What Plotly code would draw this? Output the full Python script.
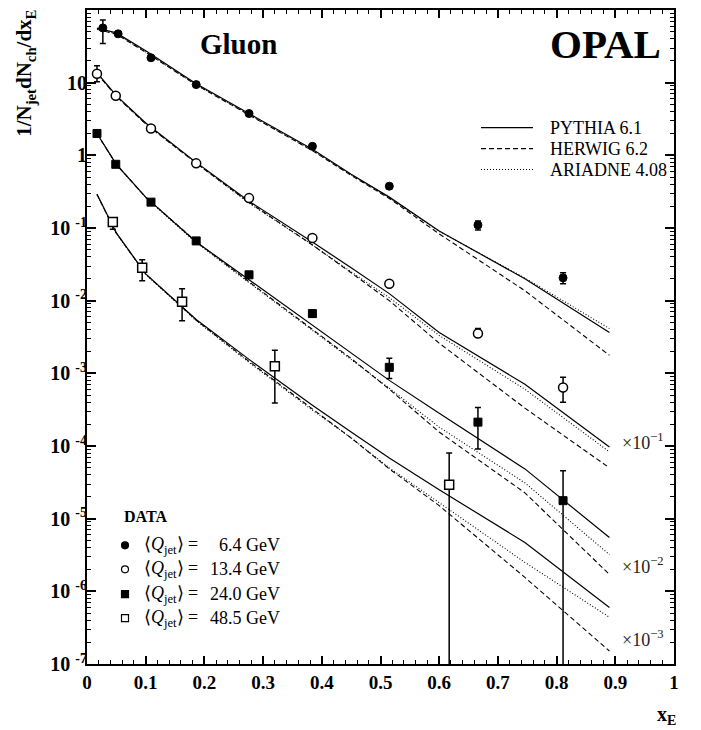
import plotly.graph_objects as go

# ---------------- data ----------------
# Monte Carlo curves: common x nodes
MC_X = [0.017, 0.05, 0.1, 0.186, 0.276, 0.384, 0.45, 0.515, 0.6, 0.746, 0.89]

# <Q_jet> = 6.4 GeV
PYTHIA_1 = [56.6, 48.4, 27.4, 9.68, 3.76, 1.21, 0.55, 0.266, 0.091, 0.020, 3.65e-3]
ARIADNE_1 = [55.5, 47.0, 26.5, 9.4, 3.65, 1.18, 0.54, 0.262, 0.090, 0.0205, 4.13e-3]
HERWIG_1 = [54.5, 46.5, 26.2, 9.3, 3.6, 1.16, 0.53, 0.255, 0.083, 0.0137, 1.77e-3]
# <Q_jet> = 13.4 GeV (as drawn, x 10^-1)
PYTHIA_2 = [13.7, 6.64, 2.79, 0.80, 0.234, 0.0643, 0.0283, 0.0125, 3.65e-3, 7.06e-4, 9.7e-5]
ARIADNE_2 = [13.5, 6.5, 2.72, 0.78, 0.220, 0.0585, 0.0249, 0.0110, 3.32e-3, 6.04e-4, 8.3e-5]
HERWIG_2 = [13.4, 6.45, 2.70, 0.78, 0.226, 0.0585, 0.0242, 0.0100, 2.6e-3, 3.32e-4, 5.0e-5]
# <Q_jet> = 24.0 GeV (as drawn, x 10^-2)
PYTHIA_3 = [2.0, 0.753, 0.266, 0.0643, 0.0194, 4.55e-3, 1.88e-3, 8.0e-4, 2.83e-4, 4.84e-5, 5.5e-6]
ARIADNE_3 = [1.98, 0.745, 0.262, 0.063, 0.0177, 3.88e-3, 1.556e-3, 6.24e-4, 1.82e-4, 3.11e-5, 3.21e-6]
HERWIG_3 = [1.98, 0.75, 0.265, 0.065, 0.0182, 4.0e-3, 1.6e-3, 6.04e-4, 1.556e-4, 2.27e-5, 1.71e-6]
# <Q_jet> = 48.5 GeV (as drawn, x 10^-3)
PYTHIA_4 = [0.292, 0.0855, 0.0234, 5.5e-3, 1.556e-3, 3.65e-4, 1.56e-4, 6.85e-5, 2.5e-5, 4.7e-6, 6.0e-7]
ARIADNE_4 = [0.29, 0.084, 0.023, 5.3e-3, 1.416e-3, 3.11e-4, 1.29e-4, 5.0e-5, 1.66e-5, 2.5e-6, 4.4e-7]
HERWIG_4 = [0.29, 0.085, 0.0232, 5.4e-3, 1.46e-3, 3.21e-4, 1.29e-4, 4.84e-5, 1.51e-5, 1.556e-6, 1.51e-7]

# OPAL data points
X_1 = [0.027, 0.053, 0.109, 0.186, 0.276, 0.384, 0.515, 0.666, 0.811]
Y_1 = [56.6, 47.0, 22.0, 9.4, 3.76, 1.33, 0.376, 0.11, 0.0206]
EP_1 = [16.0, 2.0, 1.0, 0.3, 0.1, 0.05, 0.03, 0.015, 0.0036]
EM_1 = [22.0, 2.0, 1.0, 0.3, 0.1, 0.05, 0.03, 0.016, 0.0035]

X_2 = [0.017, 0.049, 0.109, 0.186, 0.276, 0.384, 0.515, 0.666, 0.811]
Y_2 = [13.3, 6.6, 2.34, 0.776, 0.258, 0.073, 0.0171, 0.00353, 6.4e-4]
EP_2 = [3.8, 0.3, 0.08, 0.02, 0.008, 0.003, 0.0012, 0.0006, 2.4e-4]
EM_2 = [3.0, 0.3, 0.08, 0.02, 0.008, 0.003, 0.0012, 0.0004, 2.4e-4]

X_3 = [0.017, 0.049, 0.109, 0.186, 0.276, 0.384, 0.515, 0.666, 0.811]
Y_3 = [2.0, 0.753, 0.227, 0.0664, 0.0227, 0.00664, 0.00121, 2.13e-4, 1.77e-5]
EP_3 = [0.06, 0.02, 0.008, 0.002, 0.001, 0.0008, 4.0e-4, 1.27e-4, 2.78e-5]
EM_3 = [0.06, 0.02, 0.008, 0.002, 0.001, 0.0007, 3.6e-4, 1.22e-4, 1.7699e-5]

X_4 = [0.044, 0.094, 0.162, 0.320, 0.617]
Y_4 = [0.121, 0.0283, 0.0097, 0.00125, 2.92e-5]
EP_4 = [0.016, 0.0082, 0.0049, 0.00082, 5.1e-5]
EM_4 = [0.025, 0.0095, 0.0044, 0.00086, 2.9199e-5]

LABELS = ["6.4", "13.4", "24.0", "48.5"]
SCALE_TEXT = ["×10<sup>−1</sup>", "×10<sup>−2</sup>", "×10<sup>−3</sup>"]

X_TICKS = [0, 0.1, 0.2, 0.3, 0.4, 0.5, 0.6, 0.7, 0.8, 0.9, 1.0]
X_TICKTEXT = ["0", "0.1", "0.2", "0.3", "0.4", "0.5", "0.6", "0.7", "0.8", "0.9", "1"]
Y_TICKS = [1e-7, 1e-6, 1e-5, 1e-4, 1e-3, 1e-2, 1e-1, 1, 10]
Y_TICKTEXT = ["10\u00a0<sup>-7</sup>", "10\u00a0<sup>-6</sup>", "10\u00a0<sup>-5</sup>", "10\u00a0<sup>-4</sup>",
              "10\u00a0<sup>-3</sup>", "10\u00a0<sup>-2</sup>", "10\u00a0<sup>-1</sup>", "1", "10"]

# ---------------- figure ----------------
SERIF = "Liberation Serif"
W, H = 701, 730
L, R, T, B = 87, 27, 8, 66
PW, PH = W - L - R, H - T - B


def px(x):
    return (x - L) / PW


def py(y):
    return (H - B - y) / PH


fig = go.Figure()

styles = {
    "PYTHIA 6.1": dict(color="black", width=1.2, dash="solid"),
    "HERWIG 6.2": dict(color="black", width=1.1, dash="5px,3px"),
    "ARIADNE 4.08": dict(color="black", width=1.1, dash="1px,2px"),
}
curves = [
    (PYTHIA_1, HERWIG_1, ARIADNE_1),
    (PYTHIA_2, HERWIG_2, ARIADNE_2),
    (PYTHIA_3, HERWIG_3, ARIADNE_3),
    (PYTHIA_4, HERWIG_4, ARIADNE_4),
]
for trio in curves:
    for name, ys in zip(["PYTHIA 6.1", "HERWIG 6.2", "ARIADNE 4.08"], trio):
        fig.add_trace(go.Scatter(x=MC_X, y=ys, mode="lines", line=styles[name],
                                 showlegend=False, hoverinfo="skip"))

markers = [
    dict(symbol="circle", size=8, color="black", line=dict(color="black", width=1)),
    dict(symbol="circle", size=9, color="white", line=dict(color="black", width=1.5)),
    dict(symbol="square", size=8, color="black", line=dict(color="black", width=1)),
    dict(symbol="square", size=9, color="white", line=dict(color="black", width=1.5)),
]
data = [(X_1, Y_1, EP_1, EM_1), (X_2, Y_2, EP_2, EM_2), (X_3, Y_3, EP_3, EM_3), (X_4, Y_4, EP_4, EM_4)]
for (xs, ys, ep, em), mk in zip(data, markers):
    fig.add_trace(go.Scatter(
        x=xs, y=ys, mode="markers", marker=mk, showlegend=False,
        error_y=dict(type="data", symmetric=False, array=ep, arrayminus=em,
                     color="black", thickness=1.5, width=3)))

minor_y = [m * 10 ** e for e in range(-7, 2) for m in range(2, 10)]

fig.update_layout(
    width=W, height=H, margin=dict(l=L, r=R, t=T, b=B),
    paper_bgcolor="white", plot_bgcolor="white",
    font=dict(family=SERIF, color="black"),
    xaxis=dict(range=[0, 1], showline=True, linecolor="black", linewidth=2, mirror="allticks",
               ticks="inside", ticklen=8, tickwidth=1.5, tickcolor="black",
               tickmode="array", tickvals=X_TICKS, ticktext=X_TICKTEXT,
               tickfont=dict(family=SERIF, size=19, weight="bold"),
               minor=dict(ticks="inside", ticklen=4, tickwidth=1, tickcolor="black", dtick=0.02, tick0=0),
               showgrid=False, zeroline=False),
    yaxis=dict(type="log", range=[-7, 2], showline=True, linecolor="black", linewidth=2, mirror="allticks",
               ticks="inside", ticklen=9, tickwidth=1.5, tickcolor="black",
               tickmode="array", tickvals=Y_TICKS, ticktext=Y_TICKTEXT,
               tickfont=dict(family=SERIF, size=20, weight="bold"), ticklabelstandoff=-6,
               minor=dict(ticks="inside", ticklen=4, tickwidth=1, tickcolor="black",
                          tickmode="array", tickvals=minor_y),
               showgrid=False, zeroline=False),
)

ann = []
ann.append(dict(x=px(238), y=py(42), text="<b>Gluon</b>", font=dict(size=29, family=SERIF),
                xanchor="center", yanchor="middle"))
ann.append(dict(x=px(548), y=py(42), text="<b>OPAL</b>", font=dict(size=41, family=SERIF),
                xanchor="left", yanchor="middle"))
ann.append(dict(x=px(25), y=py(72), text="<b>1/N<sub>jet</sub>dN<sub>ch</sub>/dx<sub>E</sub></b>",
                textangle=-90, font=dict(size=21, family=SERIF), xanchor="center", yanchor="middle"))
ann.append(dict(x=px(666), y=py(716), text="<b>x<sub>E</sub></b>", font=dict(size=20, family=SERIF),
                xanchor="center", yanchor="middle"))

# MC legend
shapes = []
for name, yy in zip(["PYTHIA 6.1", "HERWIG 6.2", "ARIADNE 4.08"], [126, 147, 168]):
    st = styles[name]
    shapes.append(dict(type="line", xref="paper", yref="paper", x0=px(481), x1=px(533), y0=py(yy), y1=py(yy),
                       line=dict(color="black", width=st["width"], dash=st["dash"])))
    ann.append(dict(x=px(548), y=py(yy), text=name, font=dict(size=18, family=SERIF),
                    xanchor="left", yanchor="middle"))

# data legend
ann.append(dict(x=px(122), y=py(516), text="<b>DATA</b>", font=dict(size=16, family=SERIF),
                xanchor="left", yanchor="middle"))
leg_sym = [("circle", "black"), ("circle", "white"), ("rect", "black"), ("rect", "white")]
for (typ, fill), lab, yy in zip(leg_sym, LABELS, [545, 569, 594, 618]):
    shapes.append(dict(type=typ, xref="paper", yref="paper", xsizemode="pixel", ysizemode="pixel",
                       xanchor=px(125), yanchor=py(yy), x0=-3.5, x1=3.5, y0=-3.5, y1=3.5,
                       fillcolor=fill, line=dict(color="black", width=1.2)))
    ann.append(dict(x=px(142), y=py(yy), text="⟨<i>Q</i><sub>jet</sub>⟩ =", font=dict(size=18, family=SERIF),
                    xanchor="left", yanchor="middle"))
    ann.append(dict(x=px(282), y=py(yy), text=lab + " GeV", font=dict(size=18, family=SERIF),
                    xanchor="right", yanchor="middle"))

# scale labels
for txt, yy in zip(SCALE_TEXT, [441, 565, 638]):
    ann.append(dict(x=px(620), y=py(yy), text=txt, font=dict(size=18, family=SERIF, color="#222222"),
                    xanchor="left", yanchor="middle"))

for a in ann:
    a.update(xref="paper", yref="paper", showarrow=False)
fig.update_layout(annotations=ann, shapes=shapes)

fig.write_html("out.html")
